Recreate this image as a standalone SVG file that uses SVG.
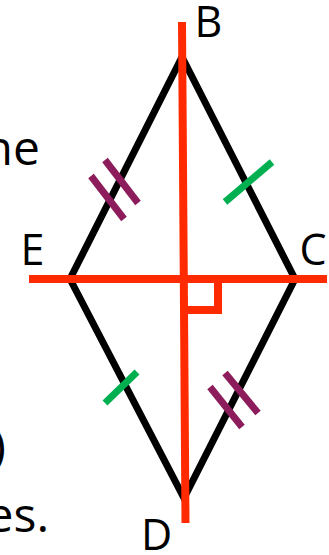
<svg xmlns="http://www.w3.org/2000/svg" width="329" height="555" viewBox="0 0 329 555">
<style>
.lbl{font-family:"Open Sans","Liberation Sans",sans-serif;font-size:43px;fill:#000}
.txt{font-family:"Open Sans","Liberation Sans",sans-serif;font-size:48px;fill:#000}
.red{stroke:#ff2a00;fill:none;stroke-width:8}
.mag{stroke:#8c1c5c;stroke-width:7;fill:none}
.grn{stroke:#00b050;stroke-width:7;fill:none}
</style>
<rect width="329" height="555" fill="#fff"/>
<g id="left-text">
<text class="txt" x="40" y="165" text-anchor="end">ne</text>
<text class="txt" x="6" y="463" text-anchor="end">)</text>
<text class="txt" x="49" y="532" text-anchor="end">es.</text>
</g>
<g id="rhombus">
<polygon points="182,57 295,279 184,498 70,279" fill="none" stroke="#000" stroke-width="7" stroke-linejoin="miter"/>
</g>
<g id="connectors">
<line class="red" x1="182" y1="22" x2="185.5" y2="523"/>
<line class="red" x1="29" y1="279" x2="327" y2="279"/>
<polyline class="red" stroke-width="7" points="218,283 218,310 186,310"/>
</g>
<g id="ticks">
<line class="mag" x1="91" y1="176" x2="124" y2="219"/>
<line class="mag" x1="105" y1="160" x2="138" y2="203"/>
<line class="grn" x1="225" y1="202" x2="272" y2="162"/>
<line class="grn" x1="105" y1="403" x2="137" y2="372"/>
<line class="mag" x1="210" y1="387" x2="242" y2="427"/>
<line class="mag" x1="225" y1="373" x2="258" y2="413"/>
</g>
<g id="B"><text class="lbl" x="208.5" y="37" text-anchor="middle">B</text></g>
<g id="C"><text class="lbl" x="313" y="265" text-anchor="middle">C</text></g>
<g id="D"><text class="lbl" x="156.5" y="550" text-anchor="middle">D</text></g>
<g id="E"><text class="lbl" x="32.5" y="265" text-anchor="middle">E</text></g>
</svg>
